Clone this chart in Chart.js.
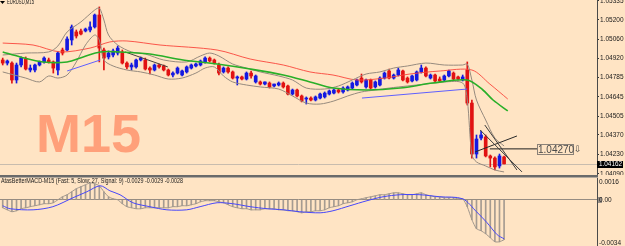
<!DOCTYPE html>
<html>
<head>
<meta charset="utf-8">
<script src="https://cdn.jsdelivr.net/npm/chart.js@4.4.0/dist/chart.umd.min.js"></script>
<style>
  html, body { margin: 0; padding: 0; background: #ffe4c4; }
  #wrap { position: relative; width: 625px; height: 246px; overflow: hidden; background: #ffe4c4; }
  #mainChart { position: absolute; left: 0; top: 0; }
  #macdChart { position: absolute; left: 0; top: 178px; }
  #sep1 { position: absolute; left: 0; top: 175px; width: 598px; height: 2px; background: #6a6a6a; }
  #sep2 { position: absolute; left: 0; top: 177px; width: 598px; height: 1px; background: #b4aa9e; }
</style>
</head>
<body>
<div id="wrap">
  <canvas id="mainChart" width="625" height="175"></canvas>
  <div id="sep1"></div>
  <div id="sep2"></div>
  <canvas id="macdChart" width="625" height="68"></canvas>
</div>
<script>
// EURUSD M15 candles
const opens = [1.04910,1.04888,1.04888,1.04766,1.04874,1.04917,1.04838,1.04838,1.04874,1.04896,
  1.04910,1.04896,1.04838,1.04982,1.04982,1.05054,1.05112,1.05119,1.05119,1.05126,
  1.05148,1.05234,1.04982,1.04932,1.04946,1.04960,1.04968,1.04888,1.04860,1.04860,
  1.04910,1.04910,1.04852,1.04838,1.04874,1.04867,1.04838,1.04802,1.04816,1.04802,
  1.04824,1.04852,1.04867,1.04874,1.04896,1.04924,1.04910,1.04874,1.04824,1.04852,
  1.04824,1.04780,1.04788,1.04773,1.04816,1.04752,1.04752,1.04737,1.04744,1.04723,
  1.04730,1.04744,1.04723,1.04665,1.04694,1.04651,1.04629,1.04636,1.04622,1.04636,
  1.04644,1.04665,1.04672,1.04694,1.04680,1.04694,1.04708,1.04730,1.04780,1.04716,
  1.04766,1.04716,1.04730,1.04780,1.04831,1.04780,1.04802,1.04831,1.04780,1.04759,
  1.04766,1.04824,1.04852,1.04780,1.04802,1.04773,1.04766,1.04795,1.04816,1.04788,
  1.04766,1.04838,1.04600,1.04233,1.04348,1.04356,1.04219,1.04204,1.04147,1.04212];
const highs = [1.04924,1.04910,1.04896,1.04888,1.04932,1.04932,1.04874,1.04881,1.04903,1.04932,
  1.04924,1.04903,1.04968,1.04996,1.05076,1.05162,1.05126,1.05133,1.05140,1.05184,
  1.05241,1.05292,1.04996,1.04975,1.04989,1.05011,1.04982,1.04896,1.04888,1.04917,
  1.04932,1.04924,1.04860,1.04881,1.04881,1.04874,1.04845,1.04824,1.04860,1.04838,
  1.04867,1.04881,1.04888,1.04910,1.04932,1.04932,1.04917,1.04888,1.04860,1.04860,
  1.04831,1.04795,1.04795,1.04824,1.04831,1.04802,1.04759,1.04752,1.04752,1.04737,
  1.04752,1.04752,1.04730,1.04701,1.04701,1.04658,1.04644,1.04644,1.04651,1.04672,
  1.04680,1.04694,1.04701,1.04701,1.04716,1.04723,1.04752,1.04773,1.04809,1.04773,
  1.04773,1.04759,1.04788,1.04824,1.04845,1.04809,1.04852,1.04838,1.04788,1.04802,
  1.04831,1.04874,1.04860,1.04809,1.04809,1.04788,1.04802,1.04838,1.04824,1.04795,
  1.04802,1.04896,1.04622,1.04370,1.04399,1.04370,1.04226,1.04212,1.04233,1.04219];
const lows = [1.04874,1.04874,1.04744,1.04744,1.04860,1.04838,1.04824,1.04824,1.04867,1.04888,
  1.04888,1.04816,1.04802,1.04946,1.04975,1.05018,1.05068,1.05090,1.05112,1.05112,
  1.05140,1.04896,1.04838,1.04917,1.04932,1.04946,1.04881,1.04845,1.04838,1.04852,
  1.04903,1.04838,1.04809,1.04831,1.04852,1.04831,1.04795,1.04788,1.04809,1.04795,
  1.04816,1.04845,1.04860,1.04867,1.04888,1.04896,1.04881,1.04802,1.04816,1.04816,
  1.04773,1.04730,1.04766,1.04766,1.04780,1.04744,1.04730,1.04730,1.04708,1.04716,
  1.04723,1.04708,1.04658,1.04658,1.04644,1.04608,1.04593,1.04615,1.04615,1.04629,
  1.04636,1.04658,1.04665,1.04672,1.04672,1.04687,1.04701,1.04723,1.04744,1.04708,
  1.04701,1.04708,1.04723,1.04773,1.04773,1.04773,1.04795,1.04759,1.04744,1.04752,
  1.04759,1.04816,1.04788,1.04773,1.04752,1.04752,1.04759,1.04788,1.04766,1.04766,
  1.04759,1.04586,1.04204,1.04204,1.04334,1.04212,1.04140,1.04118,1.04132,1.04161];
const closes = [1.04888,1.04903,1.04766,1.04874,1.04924,1.04845,1.04852,1.04874,1.04896,1.04924,
  1.04896,1.04852,1.04960,1.04960,1.05061,1.05148,1.05083,1.05097,1.05133,1.05148,
  1.05234,1.04996,1.04924,1.04960,1.04975,1.04996,1.04888,1.04860,1.04874,1.04910,
  1.04924,1.04845,1.04838,1.04874,1.04860,1.04838,1.04802,1.04816,1.04852,1.04831,
  1.04860,1.04874,1.04881,1.04903,1.04924,1.04903,1.04888,1.04816,1.04852,1.04824,
  1.04780,1.04788,1.04773,1.04816,1.04795,1.04795,1.04737,1.04752,1.04716,1.04737,
  1.04744,1.04716,1.04665,1.04694,1.04651,1.04615,1.04636,1.04622,1.04644,1.04665,
  1.04672,1.04687,1.04694,1.04680,1.04708,1.04716,1.04744,1.04766,1.04752,1.04766,
  1.04708,1.04752,1.04780,1.04816,1.04780,1.04802,1.04838,1.04766,1.04752,1.04795,
  1.04824,1.04852,1.04795,1.04802,1.04759,1.04759,1.04795,1.04831,1.04773,1.04773,
  1.04788,1.04600,1.04233,1.04341,1.04370,1.04219,1.04204,1.04140,1.04219,1.04162];

// indicator lines, [bar index, price]
const redMA = [[0,1.05032],[6.6,1.05018],[12.5,1.04968],[19,1.04996],[23.3,1.05040],[27,1.05047],
  [34.2,1.05018],[46.6,1.04982],[53.8,1.04917],[61,1.04874],[66.8,1.04824],[71.8,1.04802],
  [77,1.04766],[83.1,1.04780],[88.5,1.04809],[95.1,1.04831],[102,1.04838],[105.9,1.04737],[109.8,1.04629]];
const greenMA = [[0,1.04968],[3.8,1.04932],[8.8,1.04896],[14,1.04896],[17.5,1.04932],[21.2,1.04968],
  [25.5,1.04968],[32,1.04953],[39.2,1.04910],[46.6,1.04881],[53.8,1.04845],[61,1.04802],
  [66.8,1.04752],[71.8,1.04708],[79.2,1.04694],[86.4,1.04708],[93.5,1.04744],[101,1.04766],
  [104.4,1.04694],[106.6,1.04622],[109.8,1.04543]];
const blueMA1 = [[14,1.04831],[21.2,1.04910]];
const blueMA2 = [[78.1,1.04636],[101,1.04701]];
const darkSeg = [[26.6,1.04968],[35.9,1.04860]];
const upperBand = [[0,1.04946],[5,1.04960],[10,1.04968],[12,1.05011],[14,1.05112],[17,1.05184],
  [20,1.05270],[21,1.05284],[22,1.05198],[23,1.05090],[25,1.05018],[28,1.04968],[31,1.04953],
  [35,1.04910],[40,1.04896],[43,1.04939],[45,1.04960],[47,1.04939],[50,1.04881],[53,1.04852],
  [56,1.04824],[60,1.04795],[63,1.04766],[66,1.04708],[70,1.04701],[73,1.04723],[76,1.04766],
  [79,1.04809],[82,1.04824],[85,1.04852],[88,1.04867],[92,1.04888],[96,1.04874],[100,1.04874],
  [101,1.04881],[102,1.04766],[103,1.04622],[105,1.04478],[107,1.04348],[109,1.04291]];
const lowerBand = [[0,1.04824],[5,1.04780],[8,1.04752],[10,1.04795],[12,1.04780],[14,1.04802],
  [16,1.04896],[18,1.05018],[20,1.05090],[21,1.05054],[22,1.04910],[24,1.04867],[27,1.04838],
  [30,1.04824],[33,1.04802],[36,1.04773],[39,1.04780],[42,1.04816],[44,1.04852],[46,1.04860],
  [48,1.04795],[50,1.04752],[53,1.04730],[56,1.04716],[60,1.04701],[63,1.04651],[66,1.04600],
  [69,1.04593],[72,1.04615],[75,1.04651],[78,1.04680],[81,1.04694],[84,1.04708],[88,1.04723],
  [92,1.04737],[96,1.04752],[100,1.04744],[101,1.04622],[102,1.04226],[103,1.04176],
  [105,1.04147],[107,1.04118],[109,1.04104]];
const trendA = [[103.8,1.04406],[112.9,1.04104]];
const trendB = [[104.8,1.04442],[111.8,1.04118]];
const trendC = [[102.7,1.04248],[111.8,1.04363]];
const levelLine = [[105.9,1.04270],[116.2,1.04270]];
const priceTicks = [1.05335,1.05200,1.05060,1.04920,1.04785,1.04645,1.04505,1.04370,1.04230,1.04090];

// MACD pane
const macdMain = [-0.00059,-0.00074,-0.00088,-0.00081,-0.00066,-0.00059,-0.00051,-0.00044,-0.00037,-0.00029,
  -0.00029,-0.00022,0.00000,0.00022,0.00037,0.00059,0.00081,0.00096,0.00110,0.00125,
  0.00118,0.00103,0.00059,0.00022,0.00007,0.00000,-0.00029,-0.00051,-0.00059,-0.00066,
  -0.00066,-0.00059,-0.00059,-0.00059,-0.00059,-0.00059,-0.00059,-0.00051,-0.00051,-0.00044,
  -0.00044,-0.00037,-0.00029,-0.00015,-0.00007,-0.00007,-0.00007,-0.00015,-0.00022,-0.00037,
  -0.00051,-0.00059,-0.00066,-0.00066,-0.00074,-0.00074,-0.00074,-0.00066,-0.00066,-0.00066,
  -0.00074,-0.00074,-0.00081,-0.00081,-0.00088,-0.00096,-0.00088,-0.00088,-0.00081,-0.00081,
  -0.00074,-0.00059,-0.00051,-0.00044,-0.00029,-0.00022,-0.00015,0.00000,0.00007,0.00015,
  0.00022,0.00029,0.00037,0.00037,0.00044,0.00051,0.00051,0.00044,0.00037,0.00037,
  0.00044,0.00051,0.00037,0.00029,0.00022,0.00022,0.00015,0.00015,0.00015,0.00007,
  0.00007,-0.00051,-0.00147,-0.00213,-0.00228,-0.00250,-0.00279,-0.00309,-0.00309,-0.00294];
const macdSignal = [[0,-0.00044],[1.6,-0.00066],[6.6,-0.00074],[10.9,-0.00051],[15.3,0.00015],
  [18.3,0.00059],[21.2,0.00103],[23.3,0.00066],[25.5,0.00037],[28.3,-0.00022],[32,-0.00051],
  [35.7,-0.00074],[40,-0.00074],[42.9,-0.00051],[46.6,-0.00022],[50,-0.00029],[53.8,-0.00051],
  [57.5,-0.00066],[61,-0.00074],[64.6,-0.00088],[69,-0.00096],[71.8,-0.00081],[75.5,-0.00044],
  [79.2,-0.00007],[82.7,0.00022],[86.4,0.00037],[90.7,0.00037],[95,0.00022],[100,0.00007],
  [103,-0.00088],[105.3,-0.00169],[107.5,-0.00257],[109,-0.00287]];
const macdTicks = [0.0016, 0, -0.0034];

const bull = "rgb(20,25,225)";
const bear = "rgb(225,18,18)";
const axisFont = "6.5px 'Liberation Sans'";
const idx = opens.map((_, i) => i);
const candleColors = idx.map(i => closes[i] >= opens[i] ? bull : bear);
const pts = arr => arr.map(p => ({ x: p[0], y: p[1] }));

const xAxis = { type: "linear", min: -0.59, max: 129.2, display: false, offset: false };

function lineSet(data, color, width, order, tension) {
  return {
    type: "line", data: pts(data), borderColor: color, borderWidth: width,
    pointRadius: 0, tension: tension, order: order, fill: false
  };
}

const mainDecor = {
  id: "mainDecor",
  beforeDatasetsDraw(chart) {
    const { ctx, chartArea, scales } = chart;
    const py = Math.round(scales.y.getPixelForValue(closes[closes.length - 1])) + 0.5;
    ctx.save();
    ctx.strokeStyle = "#c8bcae";
    ctx.lineWidth = 1;
    ctx.beginPath();
    ctx.moveTo(chartArea.left, py);
    ctx.lineTo(chartArea.right, py);
    ctx.stroke();
    // big timeframe label
    ctx.fillStyle = "#ffa07a";
    ctx.font = "bold 54px 'Liberation Sans'";
    ctx.textBaseline = "alphabetic";
    ctx.fillText("M15", 36, 152);
    ctx.restore();
  },
  afterDraw(chart) {
    const { ctx, chartArea, scales } = chart;
    const last = closes[closes.length - 1];
    const py = Math.round(scales.y.getPixelForValue(last));
    ctx.save();
    // last price box
    ctx.fillStyle = "#000";
    ctx.fillRect(chartArea.right, py - 3, 26, 7);
    ctx.fillStyle = "#fff";
    ctx.font = axisFont;
    ctx.textBaseline = "middle";
    ctx.fillText(last.toFixed(5), chartArea.right + 2, py + 0.5, 23);
    // level label
    const lv = levelLine[1];
    const lx = Math.round(scales.x.getPixelForValue(lv[0]));
    const ly = Math.round(scales.y.getPixelForValue(lv[1]));
    ctx.strokeStyle = "#8a8178";
    ctx.lineWidth = 1;
    ctx.strokeRect(lx + 0.5, ly - 4.5, 36, 10);
    ctx.fillStyle = "#4a4a4a";
    ctx.font = "10px 'Liberation Sans'";
    ctx.fillText(lv[1].toFixed(5), lx + 1, ly + 1);
    ctx.font = "9px 'DejaVu Sans'";
    ctx.fillText("\u21e9", lx + 37, ly + 1);
    // window title
    ctx.fillStyle = "#000";
    ctx.beginPath();
    ctx.moveTo(0, 1); ctx.lineTo(5, 1); ctx.lineTo(2.5, 4); ctx.closePath();
    ctx.fill();
    ctx.fillStyle = "#1a1a1a";
    ctx.font = axisFont;
    ctx.fillText("EURUSD,M15", 7, 2.5, 27);
    ctx.restore();
  }
};

new Chart(document.getElementById("mainChart"), {
  type: "bar",
  data: {
    datasets: [
      { type: "bar", data: idx.map(i => ({ x: i, y: [lows[i], highs[i]] })), backgroundColor: candleColors,
        barThickness: 1, grouped: false, order: 9 },
      { type: "bar", data: idx.map(i => ({ x: i, y: [opens[i], closes[i]] })), backgroundColor: candleColors,
        barThickness: 3, grouped: false, order: 8 },
      lineSet(redMA, "rgba(250,70,60,0.9)", 1, 6, 0.3),
      lineSet(upperBand, "rgb(150,138,126)", 1, 5, 0.3),
      lineSet(lowerBand, "rgb(150,138,126)", 1, 5, 0.3),
      lineSet(greenMA, "rgb(40,175,40)", 1.6, 3, 0.3),
      lineSet(blueMA1, "rgb(95,95,255)", 1, 3, 0),
      lineSet(blueMA2, "rgb(95,95,255)", 1, 3, 0),
      lineSet(darkSeg, "rgb(70,65,60)", 1, 3, 0),
      lineSet(trendA, "rgb(60,60,60)", 1, 2, 0),
      lineSet(trendB, "rgb(60,60,60)", 1, 2, 0),
      lineSet(trendC, "rgb(40,40,40)", 1, 2, 0),
      lineSet(levelLine, "rgb(30,30,30)", 1, 2, 0)
    ]
  },
  options: {
    responsive: false,
    animation: false,
    layout: { padding: 0 },
    plugins: { legend: { display: false }, tooltip: { enabled: false } },
    scales: {
      x: xAxis,
      y: {
        position: "right",
        min: 1.04082,
        max: 1.05342,
        afterBuildTicks: s => { s.ticks = priceTicks.map(v => ({ value: v })); },
        afterFit: s => { s.width = 28; s.paddingTop = 0; s.paddingBottom = 0; },
        ticks: {
          autoSkip: false, padding: 1, color: "#1a1a1a",
          font: { family: "Liberation Sans", size: 6.5 },
          callback: v => v.toFixed(5)
        },
        grid: { drawOnChartArea: false, drawTicks: true, tickLength: 2, color: "#333" },
        border: { display: true, color: "#4a4a4a" }
      }
    }
  },
  plugins: [mainDecor]
});

const macdDecor = {
  id: "macdDecor",
  afterDraw(chart) {
    const { ctx, chartArea, scales } = chart;
    const y = scales.y;
    const x0 = chartArea.right + 2;
    const z = Math.round(y.getPixelForValue(0));
    ctx.save();
    ctx.font = axisFont;
    ctx.fillStyle = "#1a1a1a";
    ctx.textBaseline = "top";
    ctx.fillText(y.max.toFixed(4), x0, chartArea.top + 1);
    ctx.textBaseline = "bottom";
    ctx.fillText(y.min.toFixed(4), x0, chartArea.bottom);
    ctx.fillStyle = "#9a9088";
    ctx.fillRect(chartArea.right + 1, z - 3, 4, 6);
    ctx.fillStyle = "#1a1a1a";
    ctx.textBaseline = "middle";
    ctx.fillText("0.00", x0, z + 0.5);
    ctx.fillText("AtasBetterMACD-M15 (Fast: 5, Slow: 27, Signal: 9) -0.0029 -0.0029 -0.0028", 1, 3.5, 182);
    ctx.restore();
  }
};

new Chart(document.getElementById("macdChart"), {
  type: "bar",
  data: {
    datasets: [
      { type: "bar", data: idx.map(i => ({ x: i, y: macdMain[i] })), backgroundColor: "rgb(165,155,145)",
        barThickness: 1, grouped: false, order: 5 },
      { type: "line", data: idx.map(i => ({ x: i, y: macdMain[i] })), borderColor: "rgb(160,150,140)",
        borderWidth: 1, pointRadius: 0, tension: 0.2, order: 3 },
      lineSet(macdSignal, "rgb(70,70,250)", 1, 2, 0.3)
    ]
  },
  options: {
    responsive: false,
    animation: false,
    layout: { padding: 0 },
    plugins: { legend: { display: false }, tooltip: { enabled: false } },
    scales: {
      x: xAxis,
      y: {
        position: "right",
        min: -0.0034,
        max: 0.0016,
        afterBuildTicks: s => { s.ticks = macdTicks.map(v => ({ value: v })); },
        afterFit: s => { s.width = 28; s.paddingTop = 0; s.paddingBottom = 0; },
        ticks: { display: false },
        grid: {
          drawTicks: false,
          color: c => (c.tick && c.tick.value === 0) ? "rgb(150,140,130)" : "rgba(0,0,0,0)"
        },
        border: { display: true, color: "#4a4a4a" }
      }
    }
  },
  plugins: [macdDecor]
});
</script>
</body>
</html>
